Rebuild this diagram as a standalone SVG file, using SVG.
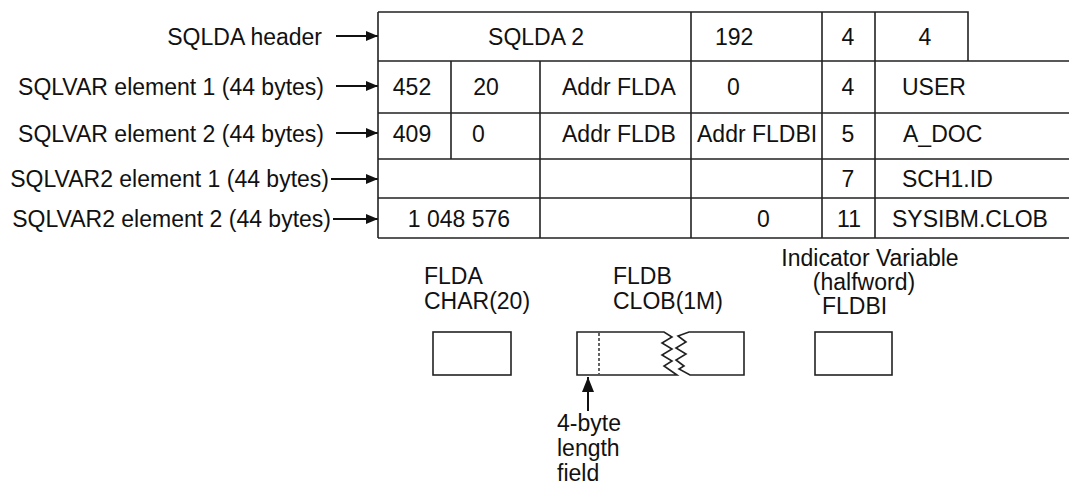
<svg xmlns="http://www.w3.org/2000/svg" width="1069" height="487" viewBox="0 0 1069 487">
<style>
text{font-family:"Liberation Sans",Arial,Helvetica,sans-serif;font-size:23px;fill:#111}
.r{text-anchor:end}
.m{text-anchor:middle}
.ln{stroke:#222;stroke-width:1.6;fill:none}
.bx{stroke:#222;stroke-width:1.6;fill:#fff}
.ar{stroke:#111;stroke-width:2;fill:none}
</style>
<defs>
<marker id="ah" viewBox="0 0 12 10" refX="12" refY="5" markerWidth="12" markerHeight="10" markerUnits="userSpaceOnUse" orient="auto">
<path d="M0,0 L12,5 L0,10 Z" fill="#111"/>
</marker>
<marker id="ahb" viewBox="0 0 15 12" refX="15" refY="6" markerWidth="15" markerHeight="12" markerUnits="userSpaceOnUse" orient="auto">
<path d="M0,0 L15,6 L0,12 Z" fill="#111"/>
</marker>
</defs>
<rect width="1069" height="487" fill="#fff"/>
<g id="labels">
<text class="r" x="322" y="45">SQLDA header</text>
<text class="r" x="324" y="95">SQLVAR element 1 (44 bytes)</text>
<text class="r" x="324" y="142">SQLVAR element 2 (44 bytes)</text>
<text class="r" x="329" y="187">SQLVAR2 element 1 (44 bytes)</text>
<text class="r" x="331" y="227">SQLVAR2 element 2 (44 bytes)</text>
</g>
<g id="connectors">
<line class="ar" x1="336" y1="36" x2="378" y2="36" marker-end="url(#ah)"/>
<line class="ar" x1="336" y1="86" x2="378" y2="86" marker-end="url(#ah)"/>
<line class="ar" x1="336" y1="133" x2="378" y2="133" marker-end="url(#ah)"/>
<line class="ar" x1="331" y1="179" x2="378" y2="179" marker-end="url(#ah)"/>
<line class="ar" x1="333" y1="219" x2="378" y2="219" marker-end="url(#ah)"/>
<line class="ar" x1="588" y1="411" x2="588" y2="377" marker-end="url(#ahb)"/>
</g>
<g id="sqlda">
<path class="ln" d="M378,12 H968 V61 M378,12 V238 M378,61 H1069 M378,113 H1069 M378,159 H1069 M378,198 H1069 M378,238 H1069 M691,12 V238 M822,12 V238 M875,12 V238 M451,61 V159 M540,61 V238"/>
<text class="m" x="536" y="45">SQLDA 2</text>
<text x="715" y="45">192</text>
<text class="m" x="848" y="45">4</text>
<text class="m" x="925" y="45">4</text>
<text class="m" x="412" y="95">452</text>
<text class="m" x="486" y="95">20</text>
<text x="562" y="95">Addr FLDA</text>
<text x="727" y="95">0</text>
<text class="m" x="848" y="95">4</text>
<text x="902" y="95">USER</text>
<text class="m" x="412" y="142">409</text>
<text x="472" y="142">0</text>
<text x="562" y="142">Addr FLDB</text>
<text x="697" y="142">Addr FLDBI</text>
<text class="m" x="848" y="142">5</text>
<text x="903" y="142">A_DOC</text>
<text class="m" x="848" y="187">7</text>
<text x="902" y="187">SCH1.ID</text>
<text class="m" x="459" y="227">1 048 576</text>
<text x="757" y="227">0</text>
<text class="m" x="849" y="227">11</text>
<text x="892" y="227">SYSIBM.CLOB</text>
</g>
<g id="flda">
<text x="424" y="284">FLDA</text>
<text x="424" y="309">CHAR(20)</text>
<rect class="bx" x="433" y="332" width="78" height="43"/>
</g>
<g id="fldb">
<text x="613" y="284">FLDB</text>
<text x="613" y="309">CLOB(1M)</text>
<path class="ln" d="M577,332 H664 L672,337 L662,343 L672,349 L662,355 L672,361 L664,366 L677,375 H577 Z"/>
<path class="ln" d="M744,332 H689 L678,336 L686,342 L676,348 L686,354 L676,360 L684,366 L679,369 L690,375 H744 Z"/>
<line x1="599" y1="333" x2="599" y2="374" stroke="#222" stroke-width="1.4" stroke-dasharray="3,2"/>
<text x="557" y="431">4-byte</text>
<text x="557" y="456">length</text>
<text x="557" y="481">field</text>
</g>
<g id="fldbi">
<text class="m" x="870" y="266">Indicator Variable</text>
<text class="m" x="864" y="290">(halfword)</text>
<text x="822" y="314">FLDBI</text>
<rect class="bx" x="815" y="332" width="77" height="43"/>
</g>
</svg>
